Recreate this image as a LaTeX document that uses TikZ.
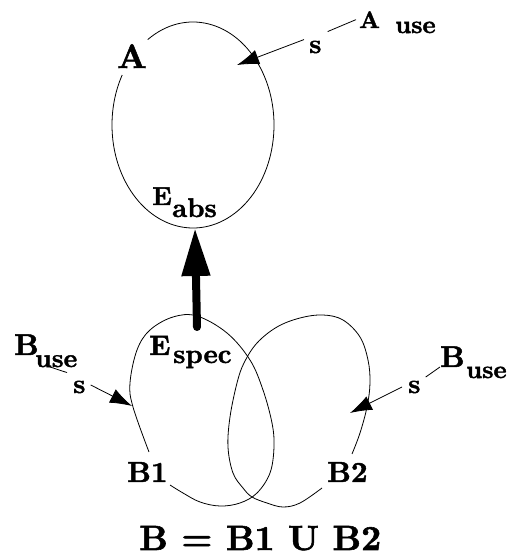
\documentclass[tikz,border=0pt]{standalone}
\usepackage{fontspec}
\setmainfont{lmroman10-regular.otf}[BoldFont=lmroman10-bold.otf, BoldFeatures={FakeBold=1.6}]
\usetikzlibrary{arrows.meta}
\newcommand\fsz[1]{\fontsize{#1}{#1}\selectfont\bfseries}
\begin{document}
\begin{tikzpicture}[x=1pt,y=1pt,
  lbl/.style={inner sep=0pt, anchor=base west},
  curve/.style={line width=0.8pt},
  thinarrow/.style={line width=0.8pt, -{Latex[length=22pt,width=15pt]}},
  thickarrow/.style={line width=8pt, line cap=round, -{Triangle[length=48pt,width=27pt]}},
  link/.style={line width=0.8pt}]
\useasboundingbox (0,0) rectangle (508,560);
% ellipse A
\draw[curve] (193,435) ++(124:81 and 103) arc[start angle=124, end angle=-209, x radius=81, y radius=103];
% loop B1
\draw[curve] plot[smooth, tension=0.6] coordinates {(149,108) (133,153) (130,177) (137,210) (150,230) (173,243) (197,244) (227,227) (250,200) (263,170) (272,137) (274,113) (270,87) (257,67) (240,57) (220,54) (200,58) (183,67) (170,75)};
% loop B2
\draw[curve] plot[smooth, tension=0.6] coordinates {(352,106) (360,127) (367,153) (370,177) (368,200) (360,223) (343,240) (323,245) (300,242) (277,233) (257,217) (244,197) (237,177) (230,143) (228,113) (233,87) (243,72) (252,63) (267,57) (283,53) (300,57) (322,72)};
% labels
\node[lbl] (A) at (117,492) {\fsz{34}A};
\node[lbl] (Ause) at (359,532) {\fsz{24}A};
\node[lbl] (Ausesub) at (395,527) {\fsz{25}use};
\node[lbl] (sA) at (309,507) {\fsz{27}s};
\node[lbl] (Eabs) at (152,355) {\fsz{26}E};
\node[lbl] (Eabssub) at (172,343) {\fsz{27}abs};
\node[lbl] (Espec) at (149,205) {\fsz{28}E};
\node[lbl] (Especsub) at (173,197) {\fsz{27}spec};
\node[lbl] (BuseL) at (14,205) {\fsz{30}B};
\node[lbl] (BuseLsub) at (35,193) {\fsz{26}use};
\node[lbl] (sL) at (73,167) {\fsz{27}s};
\node[lbl] (BuseR) at (440,193) {\fsz{30}B};
\node[lbl] (BuseRsub) at (466,182) {\fsz{25}use};
\node[lbl] (sR) at (408,167) {\fsz{27}s};
\node[lbl] (B1) at (127,78) {\fsz{29}B1};
\node[lbl] (B2) at (327,78) {\fsz{29}B2};
\node[lbl] (cap) at (139,10) {\fsz{35}B = B1 U B2};
% connector end points
\coordinate (tipA) at (237,495);
\coordinate (tipL) at (132,154);
\coordinate (tipR) at (350,147);
\coordinate (espt) at (197,233);
\coordinate (eabt) at (195,332);
% connectors
\draw[thickarrow] (espt) -- (eabt);
\draw[thinarrow] ([shift={(-5,1)}]sA.north west) -- (tipA);
\draw[link] ([shift={(6,9)}]sA.north east) -- ([xshift=-3pt]Ause.west);
\draw[thinarrow] ([shift={(5,2)}]sL.east) -- (tipL);
\draw[link] ([shift={(15,0)}]BuseLsub.base west) -- ([shift={(-6,8)}]sL.north west);
\draw[thinarrow] ([shift={(-6,0)}]sR.west) -- (tipR);
\draw[link] ([shift={(5,3.5)}]sR.north east) -- (BuseR.base west);
\end{tikzpicture}
\end{document}
